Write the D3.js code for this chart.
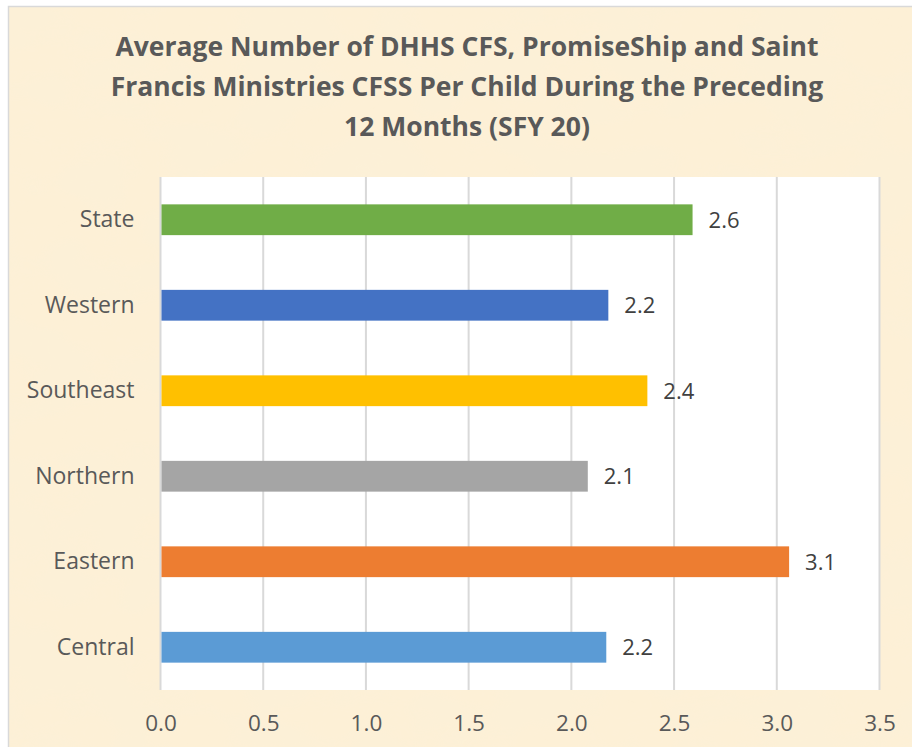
<!DOCTYPE html>
<html lang="en">
<head>
<meta charset="utf-8">
<title>Average CFS per child</title>
<script src="https://cdn.jsdelivr.net/npm/d3@7"></script>
<style>
  body { margin: 0; background: #ffffff; }
  svg text { font-family: "Open Sans", "Noto Sans", sans-serif; }
</style>
</head>
<body>
<script>
// chart data, top row first
var categories = ["State", "Western", "Southeast", "Northern", "Eastern", "Central"];
var values = [2.59, 2.18, 2.37, 2.08, 3.06, 2.17];
var labels = ["2.6", "2.2", "2.4", "2.1", "3.1", "2.2"];
var barColors = ["#70ad47", "#4472c4", "#ffc000", "#a5a5a5", "#ed7d31", "#5b9bd5"];
var xTicks = [0, 0.5, 1, 1.5, 2, 2.5, 3, 3.5];
var titleLines = [
  "Average Number of DHHS CFS, PromiseShip and Saint",
  "Francis Ministries CFSS Per Child During the Preceding",
  "12 Months (SFY 20)"
];

var W = 912, H = 747;
var plot = { left: 160.5, right: 879.5, top: 177, bottom: 690 };

var svg = d3.select("body").append("svg")
  .attr("width", W)
  .attr("height", H);

// parchment texture
var defs = svg.append("defs");
var f = defs.append("filter").attr("id", "paper")
  .attr("x", 0).attr("y", 0).attr("width", "100%").attr("height", "100%");
f.append("feTurbulence")
  .attr("type", "fractalNoise")
  .attr("baseFrequency", "0.012 0.02")
  .attr("numOctaves", 3)
  .attr("seed", 4)
  .attr("result", "noise");
f.append("feColorMatrix")
  .attr("in", "noise")
  .attr("type", "matrix")
  .attr("values", "0 0 0 0 0.94  0 0 0 0 0.88  0 0 0 0 0.72  0.35 0 0 0 -0.08")
  .attr("result", "tint");
f.append("feComposite").attr("in", "tint").attr("in2", "SourceGraphic").attr("operator", "in");

svg.append("rect")
  .attr("x", 8).attr("y", 6)
  .attr("width", W - 8).attr("height", H - 6)
  .attr("fill", "#fdf0d6");
svg.append("rect")
  .attr("x", 8).attr("y", 6)
  .attr("width", W - 8).attr("height", H - 6)
  .attr("fill", "#fdf0d6")
  .attr("filter", "url(#paper)");
svg.append("path")
  .attr("d", "M8.5," + H + "V6.5H" + W)
  .attr("fill", "none")
  .attr("stroke", "#d9d9d9")
  .attr("stroke-width", 1.5);

// title
svg.append("text")
  .attr("text-anchor", "middle")
  .attr("font-size", 26.5)
  .attr("font-weight", "bold")
  .attr("fill", "#595959")
  .selectAll("tspan")
  .data(titleLines)
  .enter()
  .append("tspan")
  .attr("x", 467)
  .attr("y", function(d, i) { return 56 + i * 40; })
  .text(function(d) { return d; });

// scales
var x = d3.scaleLinear().domain([0, 3.5]).range([plot.left, plot.right]);
var y = d3.scaleBand().domain(categories).range([plot.top, plot.bottom]).paddingInner(0.64).paddingOuter(0.32);

// plot area
svg.append("rect")
  .attr("x", plot.left).attr("y", plot.top)
  .attr("width", plot.right - plot.left).attr("height", plot.bottom - plot.top)
  .attr("fill", "#ffffff");

// gridlines
svg.append("g")
  .selectAll("line")
  .data(xTicks)
  .enter()
  .append("line")
  .attr("x1", function(d) { return x(d); })
  .attr("x2", function(d) { return x(d); })
  .attr("y1", plot.top)
  .attr("y2", plot.bottom)
  .attr("stroke", "#d9d9d9")
  .attr("stroke-width", 2);

// bars
svg.append("g")
  .selectAll("rect")
  .data(values)
  .enter()
  .append("rect")
  .attr("x", x(0) + 1)
  .attr("y", function(d, i) { return y(categories[i]); })
  .attr("width", function(d) { return x(d) - x(0) - 1; })
  .attr("height", y.bandwidth())
  .attr("fill", function(d, i) { return barColors[i]; });

// value labels
svg.append("g")
  .selectAll("text")
  .data(values)
  .enter()
  .append("text")
  .attr("x", function(d) { return x(d) + 16; })
  .attr("y", function(d, i) { return y(categories[i]) + y.bandwidth() / 2; })
  .attr("dy", "0.36em")
  .attr("font-size", 22)
  .attr("fill", "#404040")
  .text(function(d, i) { return labels[i]; });

// category axis
var yAxis = svg.append("g")
  .attr("transform", "translate(" + plot.left + ",0)")
  .call(d3.axisLeft(y).tickSize(0).tickPadding(26));
yAxis.select(".domain").remove();
yAxis.selectAll("text")
  .attr("font-size", 23)
  .attr("fill", "#595959")
  .style("font-family", "'Open Sans', sans-serif");

// value axis
var xAxis = svg.append("g")
  .attr("transform", "translate(0," + plot.bottom + ")")
  .call(d3.axisBottom(x).tickValues(xTicks).tickFormat(d3.format(".1f")).tickSize(0).tickPadding(25));
xAxis.select(".domain").remove();
xAxis.selectAll("text")
  .attr("font-size", 22.5)
  .attr("fill", "#595959")
  .style("font-family", "'Open Sans', sans-serif");
</script>
</body>
</html>
